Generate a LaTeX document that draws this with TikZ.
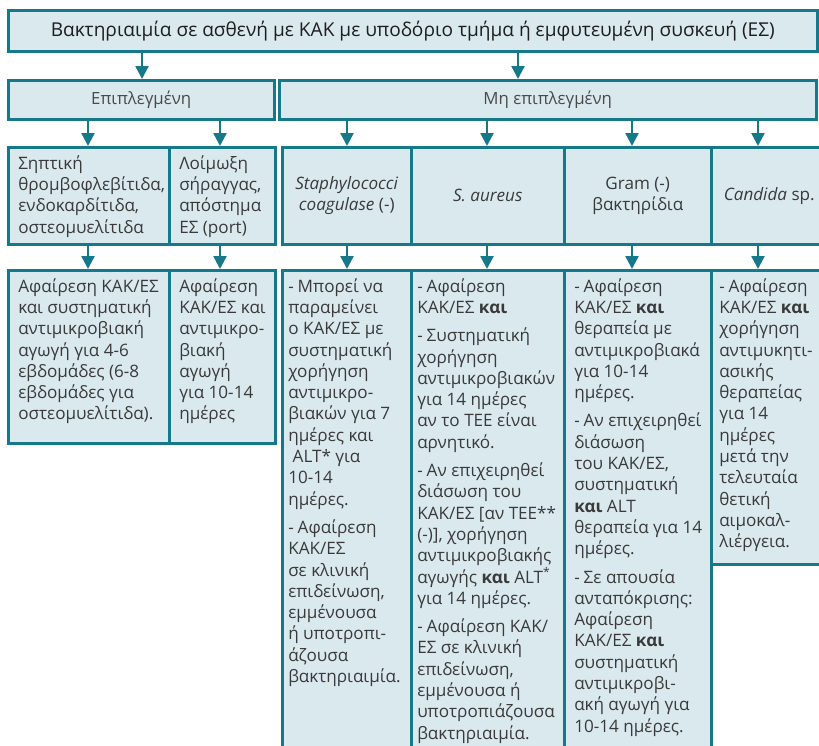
\documentclass[tikz,border=0pt]{standalone}
\usepackage{fontspec}
\setmainfont{Open Sans}
\usetikzlibrary{arrows.meta}

\definecolor{edgeteal}{HTML}{16798A}
\definecolor{boxfill}{HTML}{DAE9EE}
\definecolor{titletext}{HTML}{1E1E1E}
\definecolor{headtext}{HTML}{4A4A4A}
\definecolor{bodytext}{HTML}{3A3A3A}

% a paragraph that opens with a hanging dash
\newcommand\dashpar{\par\hangindent=9.5pt\hangafter=1\noindent\makebox[9.5pt][l]{-}\strut}
% top-aligned text block of a fixed size; lines are broken by hand only
\newcommand\cellbody[3]{\makebox[#1][l]{\parbox[c][#2][t]{\dimexpr#1+60pt\relax}{\raggedright\setlength{\parskip}{7pt}#3}}}

\begin{document}
\begin{tikzpicture}[x=1pt,y=-1pt,
  box/.style={draw=edgeteal, line width=2.5pt, fill=boxfill, inner sep=0pt,
              anchor=north west, text=bodytext},
  titlefont/.style={font=\fontsize{19.1}{22}\selectfont},
  headfont/.style={font=\fontsize{16.8}{20}\selectfont},
  catfont/.style={font=\fontsize{17.1}{21.3}\selectfont},
  bodyfont/.style={font=\fontsize{17.1}{21.3}\selectfont},
  arr/.style={draw=edgeteal, line width=2.5pt, -{Triangle[length=13pt,width=13pt]}},
]
\clip (0,0) rectangle (819,745);
\useasboundingbox (0,0) rectangle (819,745);

% title
\node[box, titlefont, text=titletext, minimum width=809pt, minimum height=41pt]
  (top) at (7,9) {Βακτηριαιμία σε ασθενή με ΚΑΚ με υποδόριο τμήμα ή εμφυτευμένη συσκευή (ΕΣ)};

% second level
\node[box, headfont, text=headtext, minimum width=266pt, minimum height=39pt]
  (epi) at (7,79) {Επιπλεγμένη};
\node[box, headfont, text=headtext, minimum width=537pt, minimum height=39pt]
  (nonepi) at (278,79) {Μη επιπλεγμένη};

% third level
\node[box, catfont, inner xsep=10pt, inner ysep=7pt] (catA) at (7,146)
  {\cellbody{141pt}{83pt}{\strut Σηπτική\\ θρομβοφλεβίτιδα,\\ ενδοκαρδίτιδα,\\ οστεομυελίτιδα}};
\node[box, catfont, inner xsep=10pt, inner ysep=7pt] (catB) at (168,146)
  {\cellbody{86pt}{83pt}{\strut Λοίμωξη\\ σήραγγας,\\ απόστημα\\ ΕΣ (port)}};
\node[box, catfont, align=center, minimum width=129pt, minimum height=97pt] (catC) at (281,146)
  {\textit{Staphylococci}\\ \textit{coagulase} (-)};
\node[box, catfont, align=center, minimum width=153pt, minimum height=97pt] (catD) at (410,146)
  {\textit{S. aureus}};
\node[box, catfont, align=center, minimum width=147pt, minimum height=97pt] (catE) at (563,146)
  {Gram (-)\\ βακτηρίδια};
\node[box, catfont, align=center, minimum width=116pt, minimum height=97pt] (catF) at (710,146)
  {\textit{Candida} sp.};

% fourth level
\node[box, bodyfont, inner xsep=10pt, inner ysep=7pt] (recA) at (7,269)
  {\cellbody{141pt}{159pt}{\strut Αφαίρεση ΚΑΚ/ΕΣ\\ και συστηματική\\ αντιμικροβιακή\\ αγωγή για 4-6\\ εβδομάδες (6-8\\ εβδομάδες για\\ οστεομυελίτιδα).}};
\node[box, bodyfont, inner xsep=10pt, inner ysep=7pt] (recB) at (168,269)
  {\cellbody{86pt}{159pt}{\strut Αφαίρεση\\ ΚΑΚ/ΕΣ και\\ αντιμικρο-\\ βιακή\\ αγωγή\\ για 10-14\\ ημέρες}};
\node[box, bodyfont, inner xsep=6pt, inner ysep=7pt] (recC) at (281,269)
  {\cellbody{117pt}{477pt}{%
   \dashpar Μπορεί να\\ παραμείνει\\ ο ΚΑΚ/ΕΣ με\\ συστηματική\\ χορήγηση\\ αντιμικρο-\\ βιακών για 7\\ ημέρες και\\ \ ALT* για\\ 10-14\\ ημέρες.
   \dashpar Αφαίρεση\\ ΚΑΚ/ΕΣ\\ σε κλινική\\ επιδείνωση,\\ εμμένουσα\\ ή υποτροπι-\\ άζουσα\\ βακτηριαιμία.}};
\node[box, bodyfont, inner xsep=6pt, inner ysep=7pt] (recD) at (410,269)
  {\cellbody{141pt}{477pt}{%
   \dashpar Αφαίρεση\\ ΚΑΚ/ΕΣ \textbf{και}
   \dashpar Συστηματική\\ χορήγηση\\ αντιμικροβιακών\\ για 14 ημέρες\\ αν το TEE είναι\\ αρνητικό.
   \dashpar Αν επιχειρηθεί\\ διάσωση του\\ ΚΑΚ/ΕΣ [αν TEE**\\ (-)], χορήγηση\\ αντιμικροβιακής\\ αγωγής \textbf{και} ALT\textsuperscript{*}\\ για 14 ημέρες.
   \dashpar Αφαίρεση ΚΑΚ/\\ ΕΣ σε κλινική\\ επιδείνωση,\\ εμμένουσα ή\\ υποτροπιάζουσα\\ βακτηριαιμία.}};
\node[box, bodyfont, inner xsep=10pt, inner ysep=7pt] (recE) at (563,269)
  {\cellbody{127pt}{477pt}{%
   \dashpar Αφαίρεση\\ ΚΑΚ/ΕΣ \textbf{και}\\ θεραπεία με\\ αντιμικροβιακά\\ για 10-14\\ ημέρες.
   \dashpar Αν επιχειρηθεί\\ διάσωση\\ του ΚΑΚ/ΕΣ,\\ συστηματική\\ \textbf{και} ALT\\ θεραπεία για 14\\ ημέρες.
   \dashpar Σε απουσία\\ ανταπόκρισης:\\ Αφαίρεση\\ ΚΑΚ/ΕΣ \textbf{και}\\ συστηματική\\ αντιμικροβι-\\ ακή αγωγή για\\ 10-14 ημέρες.}};
\node[box, bodyfont, inner xsep=8pt, inner ysep=7pt] (recF) at (710,269)
  {\cellbody{104pt}{280pt}{%
   \dashpar Αφαίρεση\\ ΚΑΚ/ΕΣ \textbf{και}\\ χορήγηση\\ αντιμυκητι-\\ ασικής\\ θεραπείας\\ για 14\\ ημέρες\\ μετά την\\ τελευταία\\ θετική\\ αιμοκαλ-\\ λιέργεια.}};

% arrow columns
\coordinate (xl) at (142,0);
\coordinate (xr) at (518,0);
\coordinate (xA) at (88,0);
\coordinate (xB) at (220,0);
\coordinate (xC) at (347,0);
\coordinate (xD) at (487,0);
\coordinate (xE) at (632,0);
\coordinate (xF) at (758,0);

\draw[arr] (xl |- top.south) -- (xl |- epi.north);
\draw[arr] (xr |- top.south) -- (xr |- nonepi.north);

\draw[arr] (xA |- epi.south) -- (xA |- catA.north);
\draw[arr] (xB |- epi.south) -- (xB |- catB.north);
\draw[arr] (xC |- nonepi.south) -- (xC |- catC.north);
\draw[arr] (xD |- nonepi.south) -- (xD |- catD.north);
\draw[arr] (xE |- nonepi.south) -- (xE |- catE.north);
\draw[arr] (xF |- nonepi.south) -- (xF |- catF.north);

\draw[arr] (xA |- catA.south) -- (xA |- recA.north);
\draw[arr] (xB |- catB.south) -- (xB |- recB.north);
\draw[arr] (xC |- catC.south) -- (xC |- recC.north);
\draw[arr] (xD |- catD.south) -- (xD |- recD.north);
\draw[arr] (xE |- catE.south) -- (xE |- recE.north);
\draw[arr] (xF |- catF.south) -- (xF |- recF.north);
\end{tikzpicture}
\end{document}
